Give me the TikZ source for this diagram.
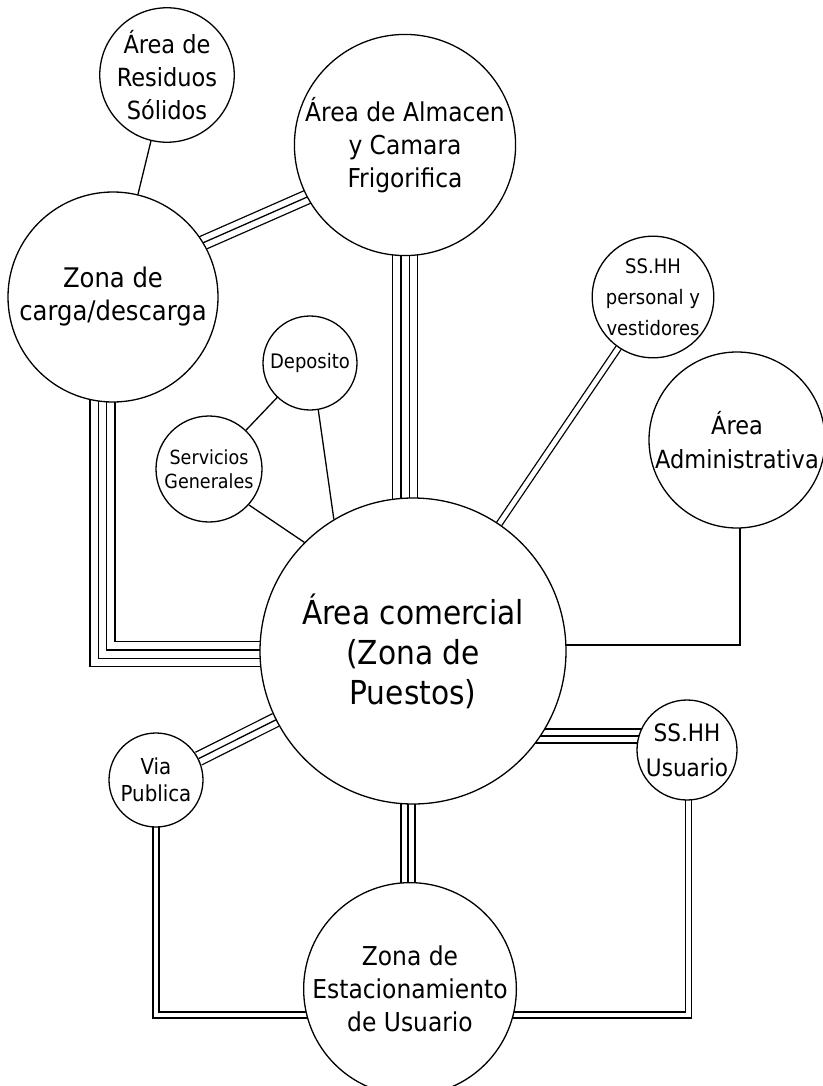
\documentclass[tikz,border=0pt]{standalone}
\usepackage{fontspec}
\setmainfont{DejaVu Sans Condensed}
\usetikzlibrary{calc,backgrounds}

\begin{document}
\begin{tikzpicture}[
  x=1pt,
  y=-1pt,
  zone/.style={circle, draw, line width=1.3pt, fill=white, inner sep=0pt, align=center, minimum size=#1},
  fbig/.style={font=\fontsize{33}{40}\selectfont},
  fmid/.style={font=\fontsize{26}{33}\selectfont},
  fsm/.style={font=\fontsize{20}{31}\selectfont},
  ftiny/.style={font=\fontsize{19.5}{24}\selectfont},
  lone/.style={draw=black, line width=1.3pt},
  ltwo/.style={draw=white, line width=4.7pt, preaction={draw=black, line width=7.3pt}},
  lthree/.style={draw=black, line width=1.3pt,
    preaction={draw=black, line width=15.3pt},
    preaction={draw=white, line width=12.7pt}},
  lfour/.style={draw=white, line width=7pt,
    preaction={draw=black, line width=26.2pt},
    preaction={draw=white, line width=23.6pt},
    preaction={draw=black, line width=9.6pt}},
]
  \useasboundingbox (0,0) rectangle (822,1086);

  % zones
  \node[zone=124, fmid, font=\fontsize{25}{33}\selectfont] (res) at (167,75) {Área de\\Residuos\\Sólidos};
  \node[zone=216, fmid] (alm) at (405,145) {Área de Almacen\\y Camara\\Frigorifica};
  \node[zone=210, fmid, font=\fontsize{27}{33}\selectfont] (carga) at (113,297) {Zona de\\carga/descarga};
  \node[zone=116, fsm] (ssp) at (653,297) {SS.HH\\personal y\\vestidores};
  \node[zone=94, ftiny, font=\fontsize{20}{24}\selectfont] (dep) at (310,363) {Deposito};
  \node[zone=106, ftiny] (serv) at (209,469) {Servicios\\Generales};
  \node[zone=176, fmid, font=\fontsize{25}{34}\selectfont] (adm) at (737,440) {Área\\Administrativa};
  \node[zone=306, fbig] (com) at (413,651) {Área comercial\\(Zona de\\Puestos)};
  \node[zone=94, font=\fontsize{22}{27}\selectfont] (via) at (156,780) {Via\\Publica};
  \node[zone=100, font=\fontsize{24}{35}\selectfont] (ssu) at (687,750) {SS.HH\\Usuario};
  \node[zone=210, fmid] (est) at (410,989) {Zona de\\Estacionamiento\\de Usuario};

  % connectors, behind the zones
  \begin{scope}[on background layer]
    \draw[lone] (res) -- (carga);
    \draw[lthree] ($(carga.31)!-15pt!(alm.208)$) -- ($(alm.208)!-15pt!(carga.31)$);
    \draw[lfour] (alm.center) -- (alm.center |- com.center);
    \draw[lfour] ([xshift=-10.5pt]carga.center) |- ([yshift=-3pt]com.center);
    \draw[ltwo] (ssp) -- (com);
    \draw[lone] ([xshift=3pt]adm.center) |- ([yshift=6pt]com.center);
    \draw[lone] (dep) -- (serv);
    \draw[lone] (dep.-80) -- (com.121);
    \draw[lone] (serv.-42) -- (com.135);
    \draw[lthree] (via) -- (com);
    \draw[lthree] ([yshift=14pt]ssu.center) -- ([yshift=14pt]ssu.center -| com.center);
    \draw[lthree] ([xshift=-2pt]est.center) -- ([xshift=-2pt]est.center |- com.center);
    \draw[ltwo] (via.center) |- ([yshift=-26pt]est.center);
    \draw[ltwo] ([xshift=1.5pt]ssu.center) |- ([yshift=-26pt]est.center);
  \end{scope}
\end{tikzpicture}
\end{document}
